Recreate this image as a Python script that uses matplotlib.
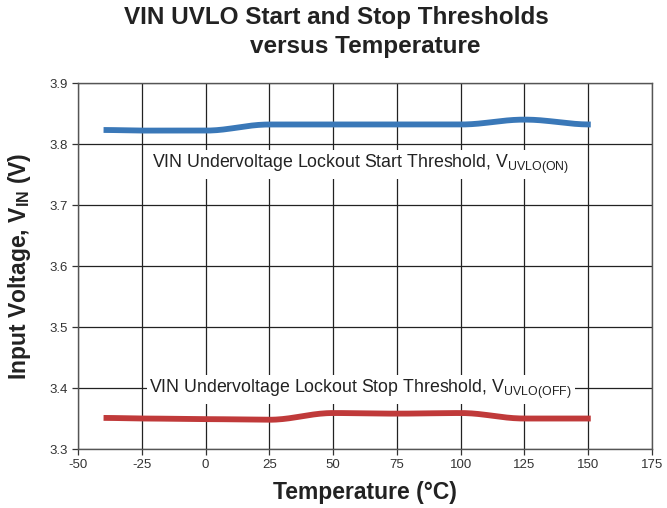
import numpy as np
import matplotlib
matplotlib.use('Agg')
import matplotlib.pyplot as plt

plt.rcParams['font.family'] = ['Liberation Sans', 'DejaVu Sans']
plt.rcParams['mathtext.fontset'] = 'custom'
plt.rcParams['mathtext.rm'] = 'Liberation Sans'
plt.rcParams['mathtext.bf'] = 'Liberation Sans:bold'

################################################
temp = [-40, -25, 0, 25, 50, 75, 100, 125, 151]
v_on = [3.823, 3.822, 3.822, 3.832, 3.832, 3.832, 3.832, 3.840, 3.832]
v_off = [3.351, 3.350, 3.349, 3.348, 3.359, 3.358, 3.359, 3.350, 3.350]
xticks = [-50, -25, 0, 25, 50, 75, 100, 125, 150, 175]
yticks = [3.3, 3.4, 3.5, 3.6, 3.7, 3.8, 3.9]
################################################

def smooth(x, y, n=30):
    # piecewise cosine blend between points
    xs, ys = [], []
    for i in range(len(x) - 1):
        t = np.linspace(0, 1, n)
        w = (1 - np.cos(np.pi * t)) / 2
        xs.extend(x[i] + (x[i+1] - x[i]) * t)
        ys.extend(y[i] + (y[i+1] - y[i]) * w)
    return xs, ys

fig = plt.figure(figsize=(6.67, 5.08), dpi=100)
ax = fig.add_axes([0.117, 0.1161, 0.8605, 0.7205])

ax.set_xlim(-50, 175)
ax.set_ylim(3.3, 3.9)
ax.set_xticks(xticks)
ax.set_yticks(yticks)
ax.set_xticklabels([str(t) for t in xticks])
ax.set_yticklabels(['%.1f' % t for t in yticks])
ax.grid(True, color='#222222', linewidth=0.9)
ax.set_axisbelow(True)
for s in ax.spines.values():
    s.set_color('#555555')
    s.set_linewidth(1.0)
ax.tick_params(axis='both', labelsize=9.5, colors='#333333', length=4, width=0.9, direction='out')

xs, ys = smooth(temp, v_on)
ax.plot(xs, ys, color='#3a78b8', linewidth=4.2, solid_capstyle='butt', zorder=3)
xs, ys = smooth(temp, v_off)
ax.plot(xs, ys, color='#c03a3a', linewidth=4.2, solid_capstyle='butt', zorder=3)

ax.text(-21, 3.766, r'VIN Undervoltage Lockout Start Threshold, V$_{\mathregular{UVLO(ON)}}$',
        fontsize=12.8, color='#222222', va='center', ha='left',
        bbox=dict(facecolor='white', edgecolor='none', pad=2), zorder=4)
ax.text(-22, 3.398, r'VIN Undervoltage Lockout Stop Threshold, V$_{\mathregular{UVLO(OFF)}}$',
        fontsize=12.8, color='#222222', va='center', ha='left',
        bbox=dict(facecolor='white', edgecolor='none', pad=2), zorder=4)

ax.set_xlabel('Temperature (°C)', fontsize=16.5, fontweight='bold', color='#222222', labelpad=7)
ax.set_ylabel(r'Input Voltage, V$_{\mathbf{IN}}$ (V)', fontsize=16.5, fontweight='bold', color='#222222', labelpad=12)

# title, second line sits a bit to the right in the original
fig.text(0.504, 0.9646, 'VIN UVLO Start and Stop Thresholds', ha='center', va='center',
         fontsize=17.5, fontweight='bold', color='#222222')
fig.text(0.547, 0.9075, 'versus Temperature', ha='center', va='center',
         fontsize=17.5, fontweight='bold', color='#222222')

fig.savefig('out.png', dpi=100)
